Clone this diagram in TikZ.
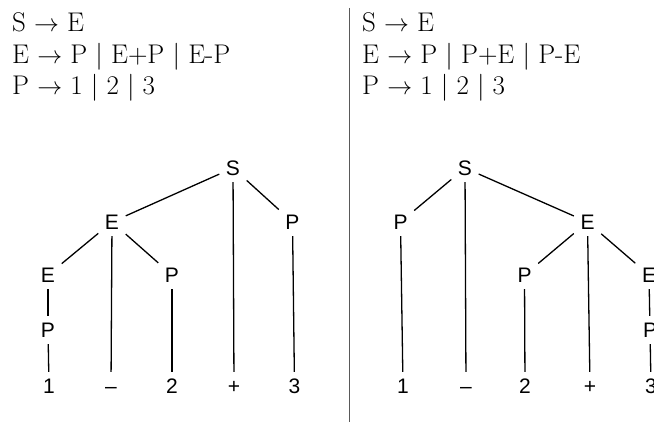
\documentclass[tikz,border=0pt]{standalone}
\usepackage{fontspec}
\newfontfamily\treefont{Liberation Sans}
\begin{document}
\begin{tikzpicture}[x=1pt,y=-1pt,
  tn/.style={font=\treefont\fontsize{21}{24}\selectfont, text height=15pt, text depth=0pt, inner sep=6.5pt, anchor=center},
  edge/.style={line width=1.3pt, black},
  divider/.style={line width=1pt, black!65},
  gram/.style={font=\fontsize{27}{32}\selectfont, anchor=base west, inner sep=0pt}]
\useasboundingbox (0,0) rectangle (654,422);

% grammars
\node[gram] (gl1) at (12,31.5) {S $\rightarrow$ E};
\node[gram] (gl2) at (12,63.3) {E $\rightarrow$ P | E+P | E-P};
\node[gram] (gl3) at (12,95) {P $\rightarrow$ 1 | 2 | 3};
\node[gram] (gr1) at (362,31.5) {S $\rightarrow$ E};
\node[gram] (gr2) at (362,63.3) {E $\rightarrow$ P | P+E | P-E};
\node[gram] (gr3) at (362,95) {P $\rightarrow$ 1 | 2 | 3};

% divider
\coordinate (dtop) at (349,8);
\coordinate (dbot) at (349,422);
\draw[divider] (dtop) -- (dbot);

% left tree
\node[tn] (aS) at (233,168) {S};
\node[tn] (aE1) at (112,222) {E};
\node[tn] (aP1) at (292.5,222) {P};
\node[tn] (aE2) at (48,275) {E};
\node[tn] (aP2) at (172,275) {P};
\node[tn] (aP3) at (48,330) {P};
\node[tn] (a1) at (49,386) {1};
\node[tn] (am) at (111,386) {–};
\node[tn] (a2) at (172,386) {2};
\node[tn] (ap) at (234,386) {+};
\node[tn] (a3) at (294.5,386) {3};
\draw[edge] (aS) -- (aE1);
\draw[edge] (aS) -- (ap);
\draw[edge] (aS) -- (aP1);
\draw[edge] (aE1) -- (aE2);
\draw[edge] (aE1) -- (am);
\draw[edge] (aE1) -- (aP2);
\draw[edge] (aE2) -- (aP3);
\draw[edge] (aP3) -- (a1);
\draw[edge] (aP2) -- (a2);
\draw[edge] (aP1) -- (a3);

% right tree
\node[tn] (bS) at (465,168) {S};
\node[tn] (bP1) at (400.5,222) {P};
\node[tn] (bE1) at (587.5,222) {E};
\node[tn] (bP2) at (524.5,275) {P};
\node[tn] (bE2) at (649,275) {E};
\node[tn] (bP3) at (650,330) {P};
\node[tn] (b1) at (403,386) {1};
\node[tn] (bm) at (466,386) {–};
\node[tn] (b2) at (525,386) {2};
\node[tn] (bp) at (590,386) {+};
\node[tn] (b3) at (651,386) {3};
\draw[edge] (bS) -- (bP1);
\draw[edge] (bS) -- (bm);
\draw[edge] (bS) -- (bE1);
\draw[edge] (bP1) -- (b1);
\draw[edge] (bE1) -- (bP2);
\draw[edge] (bE1) -- (bp);
\draw[edge] (bE1) -- (bE2);
\draw[edge] (bP2) -- (b2);
\draw[edge] (bE2) -- (bP3);
\draw[edge] (bP3) -- (b3);
\end{tikzpicture}
\end{document}
